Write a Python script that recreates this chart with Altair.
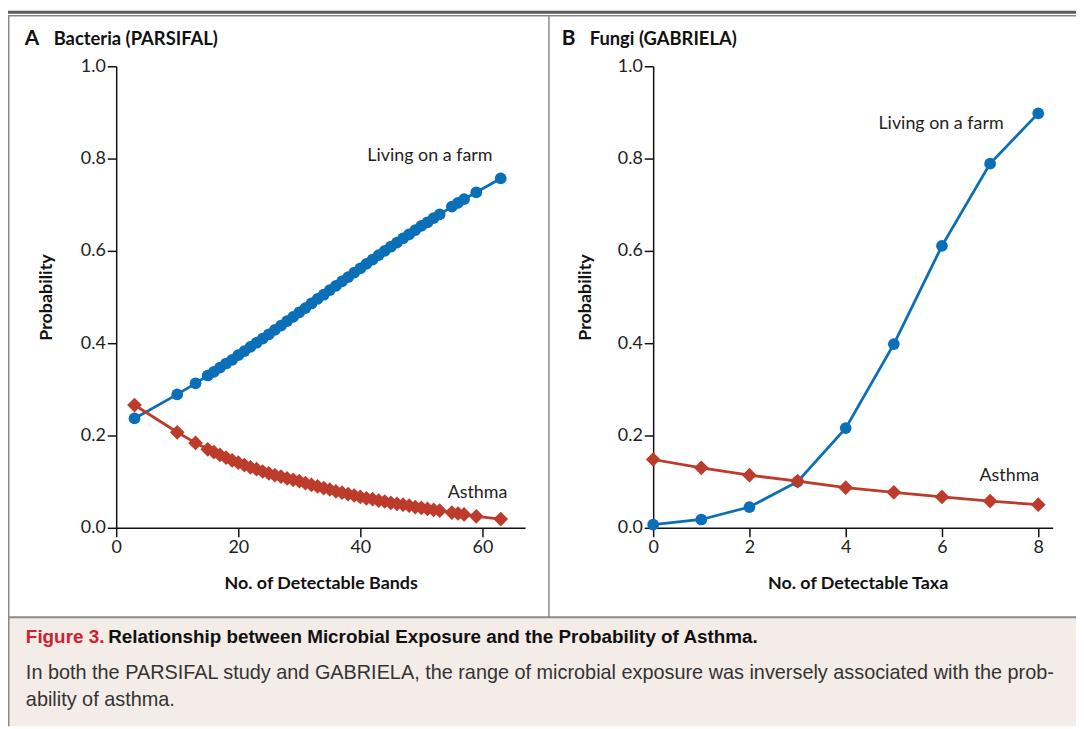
import altair as alt
import pandas as pd

# ---------------- data ----------------
# Panel A: Bacteria (PARSIFAL)
bands = [3, 10, 13, 15, 16, 17, 18, 19, 20, 21, 22, 23, 24, 25, 26, 27, 28, 29,
         30, 31, 32, 33, 34, 35, 36, 37, 38, 39, 40, 41, 42, 43, 44, 45, 46, 47,
         48, 49, 50, 51, 52, 53, 55, 56, 57, 59, 63]
farm_a = [0.237, 0.289, 0.313, 0.330, 0.338, 0.347, 0.356, 0.364, 0.374, 0.383,
          0.392, 0.401, 0.410, 0.419, 0.429, 0.438, 0.448, 0.457, 0.467, 0.476,
          0.486, 0.496, 0.505, 0.515, 0.524, 0.534, 0.543, 0.553, 0.562, 0.572,
          0.581, 0.591, 0.600, 0.609, 0.618, 0.627, 0.636, 0.645, 0.654, 0.662,
          0.671, 0.679, 0.696, 0.704, 0.712, 0.727, 0.757]
asthma_a = [0.266, 0.207, 0.184, 0.170, 0.164, 0.158, 0.152, 0.146, 0.141, 0.136,
            0.131, 0.127, 0.122, 0.118, 0.114, 0.111, 0.107, 0.104, 0.101, 0.097,
            0.093, 0.090, 0.086, 0.083, 0.079, 0.076, 0.073, 0.070, 0.067, 0.064,
            0.062, 0.059, 0.057, 0.054, 0.052, 0.050, 0.048, 0.045, 0.043, 0.041,
            0.039, 0.037, 0.033, 0.031, 0.029, 0.025, 0.019]

# Panel B: Fungi (GABRIELA)
taxa = [0, 1, 2, 3, 4, 5, 6, 7, 8]
farm_b = [0.007, 0.018, 0.045, 0.100, 0.216, 0.398, 0.611, 0.789, 0.898]
asthma_b = [0.148, 0.130, 0.114, 0.101, 0.087, 0.077, 0.067, 0.058, 0.050]

prob_ticks = [0.0, 0.2, 0.4, 0.6, 0.8, 1.0]
bands_ticks = [0, 20, 40, 60]
taxa_ticks = [0, 2, 4, 6, 8]

FARM = "Living on a farm"
ASTHMA = "Asthma"
panel_a_title = ("A", "Bacteria (PARSIFAL)")
panel_b_title = ("B", "Fungi (GABRIELA)")
x_title_a = "No. of Detectable Bands"
x_title_b = "No. of Detectable Taxa"
y_title = "Probability"
cap_head = "Figure 3."
cap_title = "Relationship between Microbial Exposure and the Probability of Asthma."
cap_line1 = ("In both the PARSIFAL study and GABRIELA, the range of microbial exposure "
             "was inversely associated with the prob-")
cap_line2 = "ability of asthma."

# ---------------- style ----------------
W, H = 1076, 721
FONT = "Lato"
CAPFONT = "Liberation Sans Narrow, Liberation Sans, sans-serif"
BLUE = "#0a6fb6"
RED = "#bd3b2b"
FRAME = "#8a8a8a"

df_a_farm = pd.DataFrame({"x": bands, "y": farm_a})
df_a_asth = pd.DataFrame({"x": bands, "y": asthma_a})
df_b_farm = pd.DataFrame({"x": taxa, "y": farm_b})
df_b_asth = pd.DataFrame({"x": taxa, "y": asthma_b})


def y_spec(offset, title_x):
    sc = alt.Scale(domain=[0, 1], range=[521, 56], nice=False, zero=False)
    ax = alt.Axis(orient="left", offset=offset, values=prob_ticks, format=".1f",
                  title=y_title, titleX=title_x, titleY=288.5,
                  titleBaseline="middle", titleAngle=270)
    return sc, ax


def x_spec(domain, rng, offset, ticks, title, title_x):
    sc = alt.Scale(domain=domain, range=rng, nice=False, zero=False)
    ax = alt.Axis(orient="bottom", offset=offset, values=ticks, format="d",
                  title=title, titleX=title_x, titleY=56,
                  titleBaseline="middle", labelFlush=False)
    return sc, ax


def panel(df_farm, df_asth, xs, ys, farm_pos, asth_pos):
    xe = alt.X("x:Q", scale=xs[0], axis=xs[1])
    ye = alt.Y("y:Q", scale=ys[0], axis=ys[1])
    base_f = alt.Chart(df_farm)
    base_a = alt.Chart(df_asth)
    lf = base_f.mark_line(color=BLUE, strokeWidth=2.8).encode(x=xe, y=ye)
    pf = base_f.mark_point(color=BLUE, filled=True, opacity=1, shape="circle",
                           size=140).encode(x=xe, y=ye)
    la = base_a.mark_line(color=RED, strokeWidth=2.8).encode(x=xe, y=ye)
    pa = base_a.mark_point(color=RED, filled=True, opacity=1, shape="diamond",
                           size=220).encode(x=xe, y=ye)
    tf = alt.Chart(alt.Data(values=[{}])).mark_text(
        text=FARM, font=FONT, fontSize=18, color="#222", align="center",
        baseline="middle").encode(
        x=alt.X(datum=farm_pos[0], scale=xs[0], axis=xs[1]),
        y=alt.Y(datum=farm_pos[1], scale=ys[0], axis=ys[1]))
    ta = alt.Chart(alt.Data(values=[{}])).mark_text(
        text=ASTHMA, font=FONT, fontSize=18, color="#222", align="center",
        baseline="middle").encode(
        x=alt.X(datum=asth_pos[0], scale=xs[0], axis=xs[1]),
        y=alt.Y(datum=asth_pos[1], scale=ys[0], axis=ys[1]))
    return alt.layer(lf, pf, la, pa, tf, ta)


xa = x_spec([0, 67], [109, 521], -200, bands_ticks, x_title_a, 315)
ya = y_spec(-109, -70)
xb = x_spec([0, 8.3], [650, 1052.5], -200, taxa_ticks, x_title_b, 856)
yb = y_spec(-650, -68)

panel_a = panel(df_a_farm, df_a_asth, xa, ya, (51.4, 0.806), (59.2, 0.075))
panel_b = panel(df_b_farm, df_b_asth, xb, yb, (5.98, 0.875), (7.40, 0.112))

one = alt.Data(values=[{}])


def hrule(y, x1, x2, color, w):
    return alt.Chart(one).mark_rule(color=color, strokeWidth=w).encode(
        x=alt.value(x1), x2=alt.value(x2), y=alt.value(y))


def vrule(x, y1, y2, color, w):
    return alt.Chart(one).mark_rule(color=color, strokeWidth=w).encode(
        x=alt.value(x), y=alt.value(y1), y2=alt.value(y2))


def label(txt, x, y, size, weight="normal", color="#111", font=FONT):
    return alt.Chart(one).mark_text(text=txt, font=font, fontSize=size, fontWeight=weight,
                                    color=color, align="left", baseline="alphabetic").encode(
        x=alt.value(x), y=alt.value(y))


caption_bg = alt.Chart(one).mark_rect(color="#f3ece7").encode(
    x=alt.value(0), x2=alt.value(W), y=alt.value(611), y2=alt.value(H))

decor = [
    caption_bg,
    hrule(1.5, 0, W, "#5c5c5c", 3),
    hrule(5, 0, W, FRAME, 1.5),
    vrule(0.75, 5, H, FRAME, 1.5),
    vrule(545, 5, 611, FRAME, 1.5),
    hrule(611, 0, W, FRAME, 2),
]

texts = [
    label(panel_a_title[0], 17, 35, 21, "bold"),
    label(panel_a_title[1], 46, 35, 18.5, "bold"),
    label(panel_b_title[0], 558, 35, 21, "bold"),
    label(panel_b_title[1], 586, 35, 18.5, "bold"),
    label(cap_head, 18, 637, 19, "bold", "#d0202e", CAPFONT),
    label(cap_title, 101, 637, 19, "bold", "#111", CAPFONT),
    label(cap_line1, 18, 673, 20, "normal", "#333", CAPFONT),
    label(cap_line2, 18, 701, 20, "normal", "#333", CAPFONT),
]

chart = alt.layer(*decor, panel_a, panel_b, *texts).resolve_scale(
    x="independent", y="independent"
).properties(
    width=W, height=H, padding=0,
    autosize=alt.AutoSizeParams(type="none"),
).configure_view(stroke=None).configure_axis(
    grid=False, domainColor="#111", tickColor="#111", domainWidth=1.5, tickWidth=1.5,
    tickSize=9, labelPadding=2, labelFont=FONT, labelFontSize=18, labelColor="#222",
    titleFont=FONT, titleFontSize=18, titleFontWeight="bold", titleColor="#111",
)

chart.save("out.html", embed_options={"renderer": "svg", "actions": False})
